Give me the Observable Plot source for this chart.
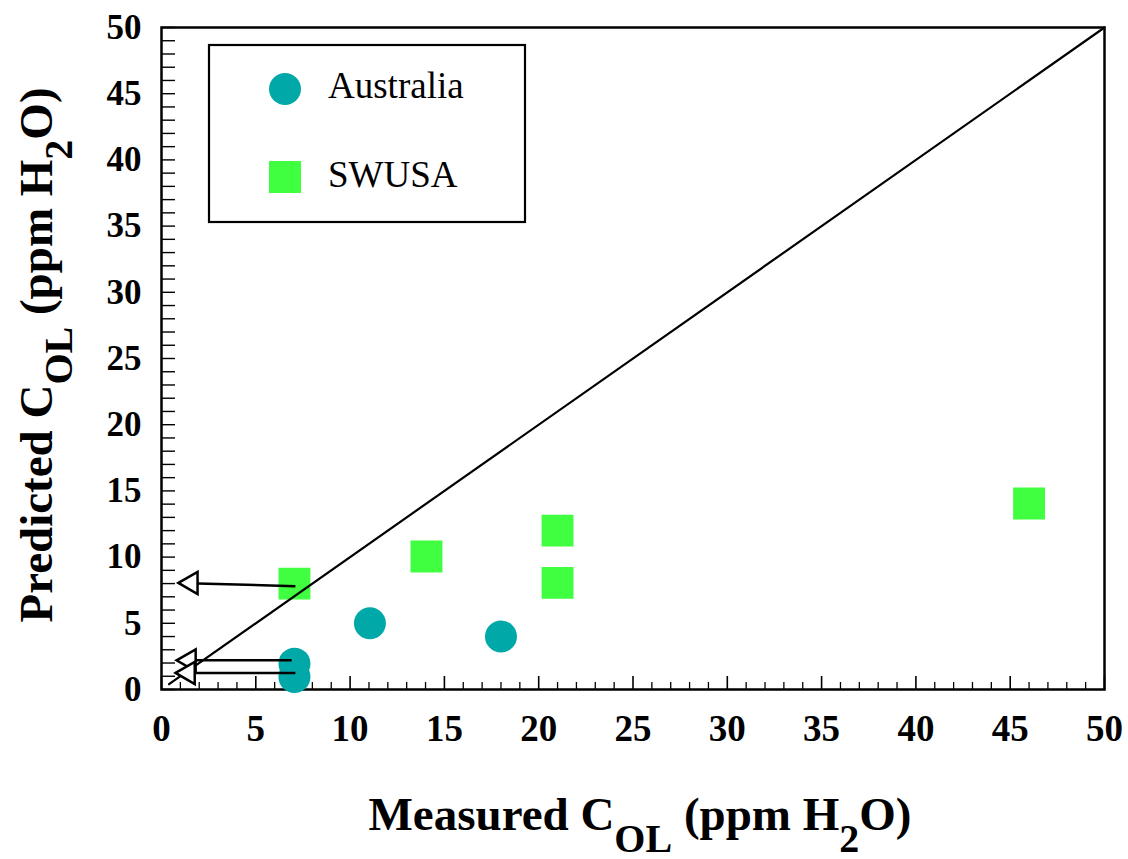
<!DOCTYPE html>
<html>
<head>
<meta charset="utf-8">
<script src="https://cdn.jsdelivr.net/npm/d3@7"></script>
<script src="https://cdn.jsdelivr.net/npm/@observablehq/plot@0.6"></script>
<style>
  html, body { margin: 0; padding: 0; background: #fff; }
  #chart { width: 1128px; height: 859px; }
</style>
</head>
<body>
<div id="chart"></div>
<script>
// ---- data ----
const seriesNames = ["Australia", "SWUSA"];
const seriesColors = ["#00A8A8", "#40FF40"];
const australiaX = [7.05, 7.05, 11.05, 18.0];
const australiaY = [1.95, 0.95, 5.0, 4.0];
const swusaX = [7.05, 14.05, 21.0, 21.0, 46.0];
const swusaY = [8.0, 10.05, 12.0, 8.05, 14.05];
// arrows (upper limits): tail -> tip
const arrowTailX = [7.1, 6.9, 7.1];
const arrowTailY = [7.8, 2.2, 1.25];
const arrowTipX = [0.9, 0.8, 0.75];
const arrowTipY = [8.05, 2.2, 1.25];
const identityLine = [0.4, 50];
const xTickLabels = [0, 5, 10, 15, 20, 25, 30, 35, 40, 45, 50];
const yTickLabels = [0, 5, 10, 15, 20, 25, 30, 35, 40, 45, 50];
const minorTicks = d3.range(0, 51, 1);

// ---- layout ----
const W = 1128, H = 859;
const mTop = 27, mRight = 24, mBottom = 170, mLeft = 161;
const plotW = W - mLeft - mRight, plotH = H - mTop - mBottom;
const serif = "'Liberation Serif', 'Times New Roman', serif";

const australia = australiaX.map((x, i) => ({x, y: australiaY[i]}));
const swusa = swusaX.map((x, i) => ({x, y: swusaY[i]}));
const arrows = arrowTailX.map((x1, i) => ({x1, y1: arrowTailY[i], x2: arrowTipX[i], y2: arrowTipY[i]}));

const svg = Plot.plot({
  width: W, height: H,
  marginTop: mTop, marginRight: mRight, marginBottom: mBottom, marginLeft: mLeft,
  style: {fontFamily: serif, background: "white", overflow: "visible"},
  x: {domain: [0, 50]},
  y: {domain: [0, 50]},
  marks: [
    Plot.frame({stroke: "black", strokeWidth: 2.5}),
    Plot.tickX(minorTicks.filter(d => d % 5 !== 0), {x: d => d, insetTop: plotH - 7, stroke: "black", strokeWidth: 1.3}),
    Plot.tickX(xTickLabels, {x: d => d, insetTop: plotH - 13, stroke: "black", strokeWidth: 1.6}),
    Plot.tickY(minorTicks, {y: d => d, insetRight: plotW - 14, stroke: "black", strokeWidth: 1.4}),
    Plot.axisX(xTickLabels, {tickSize: 0, tickPadding: 25, fontSize: 37, fontWeight: "bold", fontFamily: serif, fill: "black", stroke: "black", strokeWidth: 0.6, label: null}),
    Plot.axisY(yTickLabels, {tickSize: 0, tickPadding: 20, fontSize: 35, fontWeight: "bold", fontFamily: serif, fill: "black", stroke: "black", strokeWidth: 0.6, label: null}),
    Plot.dot(swusa, {x: "x", y: "y", symbol: "square", r: 18, fill: seriesColors[1]}),
    Plot.dot(australia, {x: "x", y: "y", symbol: "circle", r: 16, fill: seriesColors[0]}),
    Plot.line(identityLine, {x: d => d, y: d => d, stroke: "black", strokeWidth: 2.2}),
    Plot.link(arrows, {x1: "x1", y1: "y1", x2: "x2", y2: "y2", stroke: "black", strokeWidth: 2.5}),
    Plot.dot(arrows, {x: "x2", y: "y2", symbol: "triangle", r: 8.2, rotate: -90, dx: 12.7, fill: "white", stroke: "black", strokeWidth: 2.5})
  ]
});

const s = d3.select(svg);

// legend
const lg = s.append("g").attr("text-anchor", "start");
lg.append("rect").attr("x", 209).attr("y", 45).attr("width", 316).attr("height", 177)
  .attr("fill", "white").attr("stroke", "black").attr("stroke-width", 2.2);
lg.append("circle").attr("cx", 285).attr("cy", 89).attr("r", 16).attr("fill", seriesColors[0]);
lg.append("rect").attr("x", 269).attr("y", 161).attr("width", 32).attr("height", 32).attr("fill", seriesColors[1]);
lg.append("text").attr("x", 328).attr("y", 98).attr("text-anchor", "start").attr("font-family", serif).attr("font-size", 37).attr("fill", "black").text(seriesNames[0]);
lg.append("text").attr("x", 328).attr("y", 187).attr("text-anchor", "start").attr("font-family", serif).attr("font-size", 37).attr("fill", "black").text(seriesNames[1]);

// axis titles with subscripts
function addTitle(main, x, y, rotate, shift) {
  const t = s.append("text").attr("text-anchor", "middle").attr("font-family", serif)
    .attr("font-weight", "bold").attr("font-size", 47).attr("fill", "black")
    .attr("transform", `translate(${x},${y})` + (rotate ? ` rotate(${rotate})` : ""));
  t.append("tspan").text(main + " C");
  t.append("tspan").attr("font-size", 40).attr("dy", shift).text("OL");
  t.append("tspan").attr("dy", -shift).text(" (ppm H");
  t.append("tspan").attr("font-size", 40).attr("dy", shift).text("2");
  t.append("tspan").attr("dy", -shift).text("O)");
}
addTitle("Measured", 640, 830, 0, 22);
addTitle("Predicted", 52, 355, -90, 20);

document.getElementById("chart").appendChild(svg);
</script>
</body>
</html>
